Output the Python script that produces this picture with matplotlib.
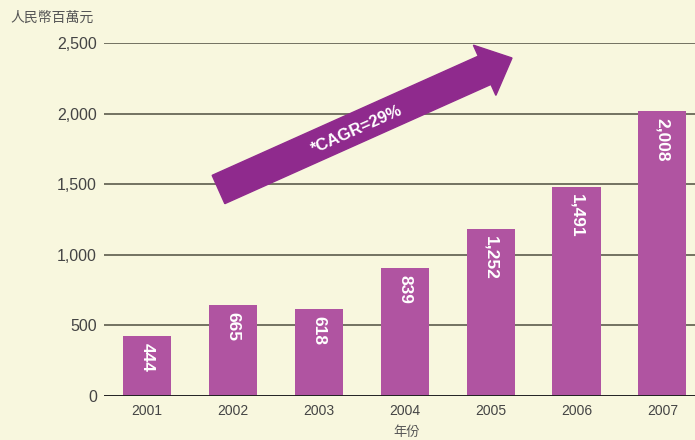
import numpy as np
import matplotlib
matplotlib.use("Agg")
import matplotlib.pyplot as plt
from matplotlib.patches import Polygon
from matplotlib.transforms import Affine2D

# data
years = ["2001", "2002", "2003", "2004", "2005", "2006", "2007"]
bar_heights = [425, 644, 616, 906, 1183, 1480, 2015]   # drawn heights
bar_labels = ["444", "665", "618", "839", "1,252", "1,491", "2,008"]
yticks = [0, 500, 1000, 1500, 2000, 2500]
ytick_labels = ["0", "500", "1,000", "1,500", "2,000", "2,500"]

bg = "#f8f7de"
bar_color = "#b054a1"
arrow_color = "#8f2a8d"
text_color = "#444444"

plt.rcParams['font.family'] = ['Liberation Sans', 'Noto Sans CJK TC', 'DejaVu Sans']

fig = plt.figure(figsize=(6.95, 4.40), dpi=100, facecolor=bg)
ax = fig.add_axes([104/695, 1 - 396/440, 1 - 104/695, (396 - 43)/440])
ax.set_facecolor(bg)

x = np.arange(len(years))
ax.bar(x, bar_heights, width=0.56, color=bar_color, zorder=3)

for xi, h, lab in zip(x, bar_heights, bar_labels):
    ax.annotate(lab, (xi, h), xytext=(0, -5), textcoords="offset points",
                rotation=-90, ha="center", va="top", color="white",
                fontsize=12.5, fontweight="bold", zorder=4)

ax.set_xlim(-0.5, 6.38)
ax.set_ylim(0, 2500)
ax.set_yticks(yticks)
ax.set_yticklabels(ytick_labels)
ax.set_xticks(x)
ax.set_xticklabels(years)
ax.tick_params(axis="y", length=0, pad=5, labelsize=11.5, labelcolor=text_color)
ax.tick_params(axis="x", length=0, pad=6, labelsize=10, labelcolor=text_color)
for s in ax.spines.values():
    s.set_visible(False)
for t in yticks[1:]:
    ax.axhline(t, color="#5c5b4c", lw=1.2, zorder=1)
ax.axhline(0, color="#222222", lw=1.4, zorder=5)

# big arrow, laid out in image pixels (y down)
px = Affine2D().scale(1/695, -1/440).translate(0, 1) + fig.transFigure
tail = np.array([218.5, 189.5])
tip = np.array([512.0, 58.0])
shaft_w, head_w, head_len = 31, 55, 30
d = (tip - tail) / np.linalg.norm(tip - tail)
n = np.array([d[1], -d[0]])
base = tip - d * head_len
pts = [tail + n*shaft_w/2, base + n*shaft_w/2, base + n*head_w/2, tip,
       base - n*head_w/2, base - n*shaft_w/2, tail - n*shaft_w/2]
fig.patches.append(Polygon(pts, closed=True, transform=px, color=arrow_color, zorder=6))
ang = np.degrees(np.arctan2(-(tip - tail)[1], (tip - tail)[0]))
fig.text(357/695, 1 - 130/440, "*CAGR=29%", transform=fig.transFigure, rotation=ang,
         rotation_mode="anchor", ha="center", va="center", color="white",
         fontsize=12, fontweight="bold", zorder=7)

fig.text(10/695, 1 - 18/440, "人民幣百萬元", family=['Noto Sans CJK TC'],
         fontsize=10, color="#555555", ha="left", va="center")
fig.text(407/695, 1 - 432/440, "年份", family=['Noto Sans CJK TC'],
         fontsize=9.5, color="#555555", ha="center", va="center")

fig.savefig("out.png", dpi=100, facecolor=bg)
